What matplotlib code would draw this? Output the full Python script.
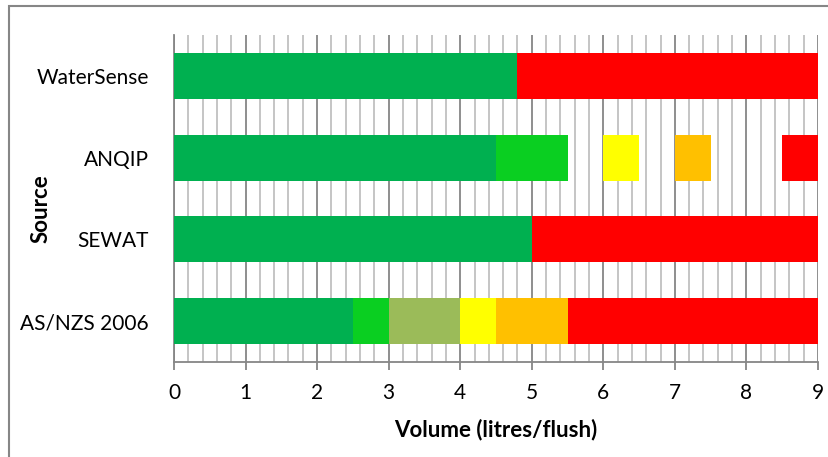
import numpy as np
import matplotlib
matplotlib.use("Agg")
import matplotlib.pyplot as plt
from matplotlib.patches import Rectangle

plt.rcParams['font.family'] = ['Lato', 'DejaVu Sans']

# --------------------------------------------------
# DATA
# --------------------------------------------------
sources = ["AS/NZS 2006", "SEWAT", "ANQIP", "WaterSense"]

# band edges (litres/flush) and the colour of each band between edges
asnzs_edges = [0, 2.5, 3, 4, 4.5, 5.5, 9]
asnzs_colors = ["#00B050", "#0ACF21", "#9BBB59", "#FFFF00", "#FFC000", "#FF0000"]

sewat_edges = [0, 5, 9]
sewat_colors = ["#00B050", "#FF0000"]

anqip_edges = [0, 4.5, 5.5, 6, 6.5, 7, 7.5, 8.5, 9]
anqip_colors = ["#00B050", "#0ACF21", None, "#FFFF00", None, "#FFC000", None, "#FF0000"]

watersense_edges = [0, 4.8, 9]
watersense_colors = ["#00B050", "#FF0000"]

edges = [asnzs_edges, sewat_edges, anqip_edges, watersense_edges]
colors = [asnzs_colors, sewat_colors, anqip_colors, watersense_colors]

x_ticks = list(range(0, 10))

# --------------------------------------------------
# PLOT
# --------------------------------------------------
fig = plt.figure(figsize=(8.29, 4.57), dpi=100)
ax = fig.add_axes([0.2099, 0.2079, 0.7768, 0.7155])

for i, (e, c) in enumerate(zip(edges, colors)):
    e = np.asarray(e, dtype=float)
    for left, width, col in zip(e[:-1], np.diff(e), c):
        if col is None:
            continue
        ax.barh(i, width, left=left, height=0.56, color=col, linewidth=0, zorder=3)

ax.set_xlim(0, 9)
ax.set_ylim(-0.5, 3.5)
ax.set_xticks(x_ticks)
ax.set_xticks(np.arange(0, 9.01, 0.2), minor=True)
ax.set_yticks(range(len(sources)))
ax.set_yticklabels(sources)

ax.grid(axis="x", which="major", color="#868686", linewidth=1.3, zorder=0)
ax.grid(axis="x", which="minor", color="#C0C0C0", linewidth=1.3, zorder=0)
ax.set_axisbelow(True)

for s in ["top", "right"]:
    ax.spines[s].set_visible(False)
ax.spines["left"].set_color("#868686")
ax.spines["bottom"].set_color("#868686")
ax.spines["left"].set_linewidth(1.3)
ax.spines["bottom"].set_linewidth(1.3)

ax.tick_params(axis="x", which="major", length=6, width=1.3, color="#868686",
               labelsize=15, pad=9)
ax.tick_params(axis="x", which="minor", length=0)
ax.tick_params(axis="y", length=0, labelsize=15, pad=18)

ax.set_xlabel("Volume (litres/flush)", fontsize=16, fontweight="bold", va="center")
ax.xaxis.set_label_coords(0.5, -0.208)
ax.set_ylabel("Source", fontsize=16, fontweight="bold", va="center")
ax.yaxis.set_label_coords(-0.2065, 0.468)

# chart-area border
fig.patches.append(Rectangle((9 / 829, -0.05), 1.1, 1 - 6 / 457 + 0.05,
                             transform=fig.transFigure, fill=False,
                             edgecolor="#868686", linewidth=1.5))

fig.savefig("out.png", dpi=100)
